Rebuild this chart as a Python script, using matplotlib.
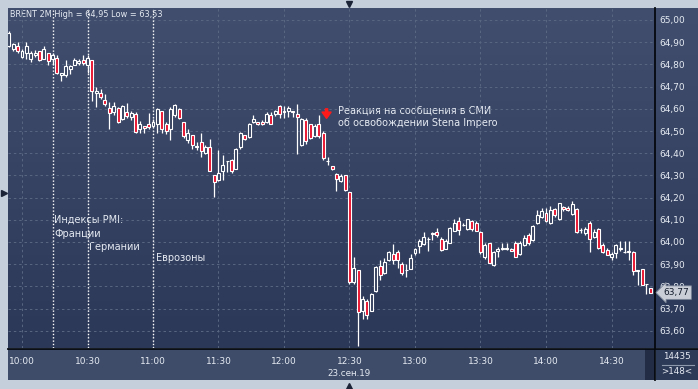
import numpy as np
import matplotlib
matplotlib.use('Agg')
import matplotlib.pyplot as plt
from matplotlib.patches import Rectangle
from matplotlib.colors import LinearSegmentedColormap

plt.rcParams['font.family'] = ['DejaVu Sans']

# 2-minute Brent bars, first bar at 09:54 (minutes are counted from 10:00)
first_bar_min = -6
bar_step = 2

opens = [64.885, 64.868, 64.883, 64.835, 64.850, 64.826, 64.841, 64.859, 64.826, 64.850,
         64.826, 64.829, 64.751, 64.751, 64.778, 64.799, 64.805, 64.820, 64.799, 64.820,
         64.670, 64.673, 64.640, 64.604, 64.586, 64.604, 64.553, 64.586, 64.562, 64.577,
         64.511, 64.523, 64.532, 64.523, 64.532, 64.589, 64.532, 64.511, 64.571, 64.601,
         64.541, 64.460, 64.481, 64.430, 64.451, 64.400, 64.430, 64.301, 64.280, 64.319,
         64.364, 64.370, 64.331, 64.427, 64.481, 64.472, 64.541, 64.541, 64.541, 64.539,
         64.572, 64.578, 64.611, 64.587, 64.590, 64.590, 64.578, 64.437, 64.551, 64.530,
         64.479, 64.530, 64.491, 64.366, 64.341, 64.308, 64.275, 64.302, 64.227, 63.818,
         63.872, 63.690, 63.732, 63.690, 63.780, 63.894, 63.861, 63.918, 63.945, 63.954,
         63.903, 63.875, 63.880, 63.952, 63.982, 63.991, 64.015, 64.035, 64.045, 64.012,
         63.970, 63.994, 64.051, 64.093, 64.075, 64.060, 64.093, 64.084, 64.045, 63.934,
         63.994, 63.895, 63.961, 63.970, 63.969, 63.970, 63.997, 63.946, 63.985, 64.033,
         64.009, 64.084, 64.111, 64.132, 64.084, 64.150, 64.102, 64.159, 64.153, 64.126,
         64.150, 64.054, 64.039, 64.084, 64.021, 64.060, 63.988, 63.964, 63.931, 63.952,
         63.970, 63.955, 63.958, 63.955, 63.870, 63.880, 63.810, 63.793]
highs = [64.950, 64.898, 64.901, 64.868, 64.901, 64.859, 64.865, 64.859, 64.883, 64.853,
         64.850, 64.844, 64.763, 64.820, 64.799, 64.829, 64.826, 64.841, 64.844, 64.820,
         64.700, 64.691, 64.667, 64.631, 64.631, 64.610, 64.616, 64.625, 64.589, 64.586,
         64.544, 64.523, 64.580, 64.556, 64.604, 64.592, 64.541, 64.610, 64.622, 64.604,
         64.541, 64.511, 64.484, 64.451, 64.490, 64.436, 64.463, 64.304, 64.415, 64.391,
         64.367, 64.376, 64.424, 64.496, 64.481, 64.535, 64.571, 64.541, 64.550, 64.587,
         64.587, 64.596, 64.617, 64.611, 64.611, 64.590, 64.620, 64.557, 64.557, 64.533,
         64.530, 64.572, 64.500, 64.383, 64.344, 64.311, 64.305, 64.302, 64.227, 63.932,
         63.872, 63.756, 63.744, 63.770, 63.890, 63.921, 63.930, 63.960, 63.993, 63.964,
         63.912, 63.903, 63.945, 63.973, 64.015, 64.045, 64.024, 64.045, 64.063, 64.021,
         64.015, 64.066, 64.105, 64.114, 64.087, 64.105, 64.099, 64.093, 64.048, 63.994,
         63.997, 63.958, 63.979, 63.994, 63.997, 63.973, 64.006, 64.006, 64.030, 64.042,
         64.075, 64.144, 64.153, 64.153, 64.162, 64.153, 64.177, 64.162, 64.162, 64.183,
         64.153, 64.063, 64.069, 64.096, 64.057, 64.063, 63.994, 63.973, 63.955, 63.991,
         64.006, 64.006, 64.006, 63.958, 63.876, 63.880, 63.812, 63.793]
lows = [64.880, 64.859, 64.850, 64.829, 64.826, 64.811, 64.835, 64.817, 64.823, 64.799,
        64.799, 64.757, 64.727, 64.745, 64.757, 64.799, 64.799, 64.799, 64.763, 64.637,
        64.610, 64.646, 64.613, 64.511, 64.571, 64.538, 64.550, 64.559, 64.550, 64.490,
        64.493, 64.490, 64.511, 64.520, 64.490, 64.490, 64.487, 64.460, 64.565, 64.556,
        64.469, 64.445, 64.421, 64.415, 64.385, 64.397, 64.319, 64.201, 64.277, 64.280,
        64.316, 64.310, 64.331, 64.421, 64.460, 64.469, 64.535, 64.526, 64.526, 64.536,
        64.530, 64.569, 64.557, 64.557, 64.563, 64.563, 64.398, 64.431, 64.443, 64.464,
        64.473, 64.470, 64.371, 64.347, 64.326, 64.230, 64.269, 64.230, 63.812, 63.812,
        63.530, 63.654, 63.654, 63.687, 63.777, 63.828, 63.858, 63.915, 63.903, 63.883,
        63.852, 63.843, 63.877, 63.943, 63.952, 63.985, 63.961, 64.009, 64.021, 63.961,
        63.967, 63.994, 64.048, 64.033, 64.072, 64.054, 64.051, 64.048, 63.946, 63.922,
        63.904, 63.892, 63.931, 63.964, 63.964, 63.958, 63.931, 63.940, 63.982, 63.988,
        64.003, 64.081, 64.108, 64.090, 64.081, 64.114, 64.099, 64.141, 64.141, 64.123,
        64.042, 64.042, 64.033, 63.955, 64.018, 63.970, 63.949, 63.940, 63.919, 63.928,
        63.958, 63.952, 63.919, 63.853, 63.806, 63.805, 63.766, 63.772]
closes = [64.940, 64.892, 64.859, 64.859, 64.883, 64.850, 64.853, 64.820, 64.868, 64.817,
          64.841, 64.760, 64.760, 64.793, 64.793, 64.820, 64.814, 64.808, 64.829, 64.679,
          64.679, 64.652, 64.622, 64.580, 64.613, 64.541, 64.613, 64.568, 64.580, 64.496,
          64.532, 64.514, 64.517, 64.541, 64.601, 64.511, 64.499, 64.601, 64.616, 64.559,
          64.478, 64.490, 64.439, 64.433, 64.412, 64.427, 64.319, 64.271, 64.310, 64.349,
          64.367, 64.319, 64.421, 64.490, 64.463, 64.532, 64.553, 64.532, 64.532, 64.578,
          64.533, 64.590, 64.575, 64.590, 64.602, 64.584, 64.563, 64.554, 64.455, 64.467,
          64.521, 64.476, 64.380, 64.364, 64.329, 64.284, 64.296, 64.233, 63.818, 63.881,
          63.683, 63.741, 63.672, 63.765, 63.888, 63.852, 63.912, 63.954, 63.918, 63.918,
          63.861, 63.873, 63.930, 63.970, 64.003, 64.021, 64.013, 64.039, 64.030, 63.964,
          64.003, 64.063, 64.084, 64.054, 64.076, 64.102, 64.060, 64.051, 63.955, 63.988,
          63.904, 63.955, 63.970, 63.971, 63.970, 63.961, 63.934, 63.994, 64.018, 63.994,
          64.072, 64.123, 64.141, 64.093, 64.144, 64.120, 64.174, 64.150, 64.144, 64.171,
          64.045, 64.055, 64.060, 64.012, 64.045, 63.973, 63.955, 63.943, 63.946, 63.985,
          63.971, 63.956, 63.957, 63.871, 63.874, 63.805, 63.811, 63.772]

time_ticks = [0, 30, 60, 90, 120, 150, 180, 210, 240, 270]
time_labels = ['10:00', '10:30', '11:00', '11:30', '12:00', '12:30', '13:00', '13:30', '14:00', '14:30']
price_ticks = [63.6, 63.7, 63.8, 63.9, 64.0, 64.1, 64.2, 64.3, 64.4, 64.5, 64.6, 64.7, 64.8, 64.9, 65.0]
event_minutes = [14, 30, 60]   # PMI France, Germany, Eurozone

W, H = 698, 389
fig = plt.figure(figsize=(W / 100, H / 100), dpi=100)
fig.patch.set_facecolor('#c5cfdc')

# pixel-space background layer
bg = fig.add_axes([0, 0, 1, 1])
bg.axis('off')
grad = LinearSegmentedColormap.from_list('bgrad', ['#414e6d', '#2c3857'])
bg.imshow(np.linspace(0, 1, 256).reshape(-1, 1), extent=[8, 698, 348, 8], cmap=grad, aspect='auto')
bg.add_patch(Rectangle((8, 349), 637, 31, fc='#3e4c69', ec='none'))
bg.add_patch(Rectangle((645, 349), 10, 31, fc='#222c44', ec='none'))
bg.add_patch(Rectangle((656, 349), 42, 31, fc='#2d3a57', ec='none'))
bg.plot([655, 655], [8, 380], color='#05080e', lw=1.3)
bg.plot([8, 698], [348.5, 348.5], color='#05080e', lw=1.3)
bg.plot([662, 694], [364.5, 364.5], color='#8d98ac', lw=0.8)
bg.plot([349], [3.5], marker='v', ms=5, color='#1b2436')
bg.plot([349], [385.5], marker='^', ms=5, color='#1b2436')
bg.plot([3.5], [193], marker='>', ms=5, color='#1b2436')
bg.set_xlim(0, W)
bg.set_ylim(H, 0)

txt = '#e6ebf3'
bg.text(10, 14, 'BRENT 2M High = 64,95 Low = 63,53', color=txt, fontsize=5.9, va='center', ha='left')
bg.text(677, 356.5, '14435', color=txt, fontsize=6.3, va='center', ha='center')
bg.text(677, 372, '>148<', color=txt, fontsize=6.3, va='center', ha='center')
bg.text(349, 373, '23.сен.19', color=txt, fontsize=6.3, va='center', ha='center')
bg.text(338, 117, 'Реакция на сообщения в СМИ\nоб освобождении Stena Impero', color=txt,
        fontsize=7, va='center', ha='left', linespacing=1.25)
bg.text(54, 220, 'Индексы PMI:', color=txt, fontsize=7, va='center', ha='left')
bg.text(54, 234, 'Франции', color=txt, fontsize=7, va='center', ha='left')
bg.text(89, 247, 'Германии', color=txt, fontsize=7, va='center', ha='left')
bg.text(156, 258, 'Еврозоны', color=txt, fontsize=7, va='center', ha='left')

# main candle axes
ax = fig.add_axes([8 / W, (H - 348) / H, (655 - 8) / W, 340 / H])
ax.set_facecolor('none')
px_per_min = 65.5 / 30
ax.set_xlim((8 - 22) / px_per_min, (655 - 22) / px_per_min)
ax.set_ylim(65.0 - 328 / 222, 65.0 + 12 / 222)
for s in ax.spines.values():
    s.set_visible(False)

ax.set_xticks(time_ticks)
ax.set_xticklabels(time_labels)
ax.set_yticks(price_ticks)
ax.set_yticklabels([('%.2f' % p).replace('.', ',') for p in price_ticks])
ax.yaxis.tick_right()
ax.tick_params(axis='x', length=0, pad=6.5, labelsize=6.5, labelcolor=txt)
ax.tick_params(axis='y', length=0, pad=3, labelsize=6.5, labelcolor=txt)
ax.grid(True, color='#5a6783', lw=0.7, ls=(0, (2.5, 3)))
ax.set_axisbelow(True)

for m in event_minutes:
    ax.axvline(m, color='white', lw=1.0, ls=(0, (1, 1.4)), zorder=1.6)

o = np.array(opens)
h = np.array(highs)
l = np.array(lows)
c = np.array(closes)
x = first_bar_min + bar_step * np.arange(len(o))
up = c >= o
ax.vlines(x, l, h, color='white', lw=0.9, zorder=2)
bottom = np.minimum(o, c)
height = np.maximum(np.abs(c - o), 0.002)
ax.bar(x[up], height[up], bottom=bottom[up], width=1.35, color='#33405e',
       edgecolor='white', linewidth=0.8, zorder=3)
ax.bar(x[~up], height[~up], bottom=bottom[~up], width=1.35, color='#e8112d',
       edgecolor='white', linewidth=0.8, zorder=3)

# news arrow
ax.annotate('', xy=(139.5, 64.557), xytext=(139.5, 64.600),
            arrowprops=dict(width=1.6, headwidth=6.5, headlength=4.5, color='#ff1a1a', shrink=0), zorder=4)

# last price tag
last = ('%.2f' % closes[-1]).replace('.', ',')
ax.annotate(last, xy=(1.0, closes[-1]), xycoords=('axes fraction', 'data'),
            xytext=(6, 0), textcoords='offset points', va='center', ha='left',
            fontsize=6.5, color='#121a2a', annotation_clip=False, zorder=6,
            bbox=dict(boxstyle='larrow,pad=0.25', fc='#c9ced7', ec='#7d8799', lw=0.6))

fig.savefig('out.png', dpi=100, facecolor=fig.get_facecolor())
